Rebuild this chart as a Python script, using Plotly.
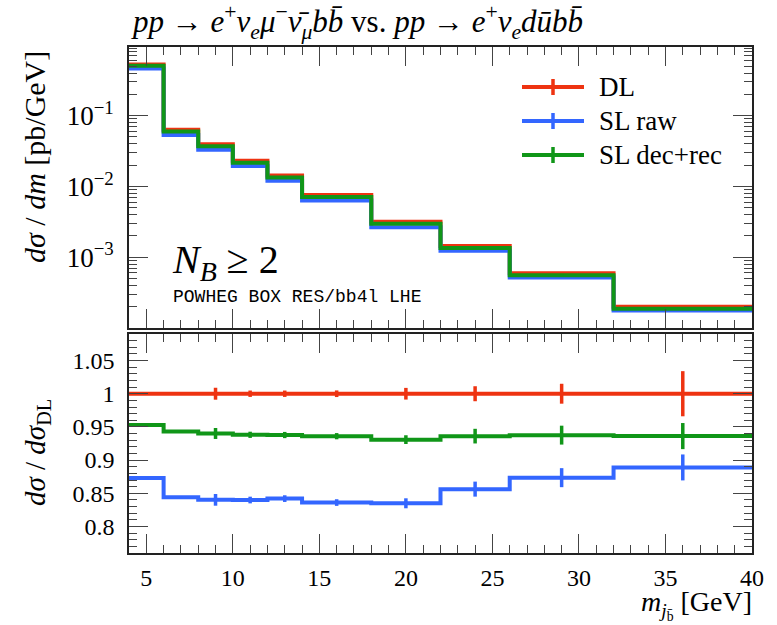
import plotly.graph_objects as go

# Binning in m_{j_bbar} [GeV]
edges = [4, 6, 8, 10, 12, 14, 18, 22, 26, 32, 40]

# Differential cross sections dsigma/dm [pb/GeV]
dl = [0.530, 0.0632, 0.0394, 0.0231, 0.0143, 0.00758, 0.00318, 0.00144, 0.000593, 0.000199]
sl_raw = [0.4627, 0.05334, 0.0331, 0.0194, 0.01204, 0.006337, 0.002655, 0.001233, 0.000518, 0.0001769]
sl_decrec = [0.5051, 0.0596, 0.03704, 0.02167, 0.01341, 0.007095, 0.00296, 0.001348, 0.000556, 0.0001863]

# Relative statistical uncertainties per bin
dl_relerr = [0.001, 0.001, 0.009, 0.0048, 0.0048, 0.005, 0.0088, 0.0113, 0.015, 0.034]
sl_raw_relerr = [0.001, 0.001, 0.0105, 0.006, 0.006, 0.006, 0.009, 0.0132, 0.0164, 0.022]
sl_decrec_relerr = [0.001, 0.001, 0.0088, 0.005, 0.005, 0.005, 0.0071, 0.0118, 0.0152, 0.021]

series_names = ["DL", "SL raw", "SL dec+rec"]
series_colors = ["#EE3311", "#3366FF", "#109618"]

x_ticks = [5, 10, 15, 20, 25, 30, 35, 40]
y_top_ticks = [1e-3, 1e-2, 1e-1]
y_top_ticktext = ["10<sup>\u22123</sup>", "10<sup>\u22122</sup>", "10<sup>\u22121</sup>"]
y_ratio_ticks = [0.8, 0.85, 0.9, 0.95, 1.0, 1.05]
y_ratio_ticktext = ["0.8", "0.85", "0.9", "0.95", "1", "1.05"]

SERIF = "Liberation Serif"
W, H = 777, 625
L, R, T, B = 129, 25, 47, 72
TOP_BOTTOM_PX = 328
RATIO_TOP_PX = 334
PLOT_H = H - T - B
PLOT_W = W - L - R


def px_x(px):
    return (px - L) / PLOT_W


def px_y(py):
    return (H - B - py) / PLOT_H


centers = [(a + b) / 2 for a, b in zip(edges[:-1], edges[1:])]
all_vals = [dl, sl_raw, sl_decrec]
all_err = [dl_relerr, sl_raw_relerr, sl_decrec_relerr]

fig = go.Figure()

for name, col, vals, rel in zip(series_names, series_colors, all_vals, all_err):
    ratio = [v / d for v, d in zip(vals, dl)]
    # main panel: step histogram + error bars at bin centres
    fig.add_trace(go.Scatter(
        x=edges, y=vals + [vals[-1]], mode="lines", line=dict(color=col, width=4, shape="hv"),
        name=name, showlegend=False, xaxis="x", yaxis="y", hoverinfo="skip"))
    fig.add_trace(go.Scatter(
        x=centers, y=vals, mode="markers", marker=dict(size=1, color=col, opacity=0),
        error_y=dict(type="data", array=[v * e for v, e in zip(vals, rel)], width=0,
                     thickness=3.5, color=col),
        showlegend=False, xaxis="x", yaxis="y", hoverinfo="skip"))
    # ratio panel
    fig.add_trace(go.Scatter(
        x=edges, y=ratio + [ratio[-1]], mode="lines", line=dict(color=col, width=4, shape="hv"),
        showlegend=False, xaxis="x2", yaxis="y2", hoverinfo="skip"))
    fig.add_trace(go.Scatter(
        x=centers, y=ratio, mode="markers", marker=dict(size=1, color=col, opacity=0),
        error_y=dict(type="data", array=[r * e for r, e in zip(ratio, rel)], width=0,
                     thickness=3.5, color=col),
        showlegend=False, xaxis="x2", yaxis="y2", hoverinfo="skip"))

tick_col = "#444444"
frame = dict(showline=True, linecolor="#222222", linewidth=1.6, mirror="allticks",
             ticks="inside", tickcolor=tick_col, tickwidth=1.4, showgrid=False, zeroline=False)
xminor = dict(ticks="inside", dtick=1, tick0=4, ticklen=8, tickcolor=tick_col, tickwidth=1.4, showgrid=False)

top_dom = [px_y(TOP_BOTTOM_PX), 1.0]
bot_dom = [0.0, px_y(RATIO_TOP_PX)]

log_minor = [m * 10 ** e for e in range(-4, 1) for m in range(2, 10)]
ratio_minor = [round(0.76 + 0.01 * i, 2) for i in range(0, 34)]

fig.update_layout(
    width=W, height=H,
    margin=dict(l=L, r=R, t=T, b=B),
    paper_bgcolor="white", plot_bgcolor="white",
    showlegend=False,
    font=dict(family=SERIF, size=22, color="black"),
    xaxis=dict(domain=[0, 1], anchor="y", range=[4, 40], tickvals=x_ticks, ticklen=19,
               showticklabels=False, minor=xminor, **frame),
    yaxis=dict(domain=top_dom, anchor="x", type="log", range=[-4, -0.03],
               tickvals=y_top_ticks, ticktext=y_top_ticktext, ticklen=19,
               tickfont=dict(family=SERIF, size=27), ticklabelstandoff=8,
               minor=dict(ticks="inside", tickvals=log_minor, ticklen=8, tickcolor=tick_col,
                          tickwidth=1.4, showgrid=False),
               **frame),
    xaxis2=dict(domain=[0, 1], anchor="y2", range=[4, 40], matches="x", tickvals=x_ticks,
                ticktext=[str(v) for v in x_ticks], ticklen=19,
                tickfont=dict(family=SERIF, size=24), ticklabelstandoff=2,
                minor=xminor, **frame),
    yaxis2=dict(domain=bot_dom, anchor="x2", range=[0.76, 1.09],
                tickvals=y_ratio_ticks, ticktext=y_ratio_ticktext, ticklen=19,
                tickfont=dict(family=SERIF, size=24), ticklabelstandoff=8,
                minor=dict(ticks="inside", tickvals=ratio_minor, ticklen=8, tickcolor=tick_col,
                           tickwidth=1.4, showgrid=False),
                **frame),
)

ann = []
# title
ann.append(dict(
    text=("<i>pp</i> \u2192 <i>e</i><sup>+</sup><i>\u03bd<sub>e</sub>\u03bc</i><sup>\u2212</sup>"
          "<i>\u03bd\u0304<sub>\u03bc</sub>bb\u0304</i> vs. <i>pp</i> \u2192 "
          "<i>e</i><sup>+</sup><i>\u03bd<sub>e</sub>d\u016bbb\u0304</i>"),
    x=px_x(129), y=px_y(22), xanchor="left", yanchor="middle",
    font=dict(family=SERIF, size=31)))
# y-axis titles
ann.append(dict(text="<i>d\u03c3</i> / <i>dm</i> [pb/GeV]", textangle=-90,
                x=px_x(34), y=px_y(157), xanchor="center", yanchor="middle",
                font=dict(family=SERIF, size=30)))
ann.append(dict(text="<i>d\u03c3</i> / <i>d\u03c3</i><sub>DL</sub>", textangle=-90,
                x=px_x(37), y=px_y(452), xanchor="center", yanchor="middle",
                font=dict(family=SERIF, size=29)))
# x-axis title
ann.append(dict(text="<i>m</i><sub><i>j</i><sub>b\u0304</sub></sub> [GeV]",
                x=px_x(754), y=px_y(605), xanchor="right", yanchor="middle",
                font=dict(family=SERIF, size=28)))
# in-plot labels
ann.append(dict(text="<i>N<sub>B</sub></i> \u2265 2", x=px_x(170), y=px_y(262),
                xanchor="left", yanchor="middle", font=dict(family=SERIF, size=40)))
ann.append(dict(text="POWHEG BOX RES/bb4l LHE", x=px_x(171), y=px_y(297),
                xanchor="left", yanchor="middle", font=dict(family="Liberation Mono", size=18)))

# legend: line with vertical error marker, then the label
shapes = []
leg_y = [87, 121, 155]
for name, col, yy in zip(series_names, series_colors, leg_y):
    shapes.append(dict(type="line", xref="paper", yref="paper", x0=px_x(522), x1=px_x(584),
                       y0=px_y(yy), y1=px_y(yy), line=dict(color=col, width=4)))
    shapes.append(dict(type="line", xref="paper", yref="paper", x0=px_x(553), x1=px_x(553),
                       y0=px_y(yy - 8), y1=px_y(yy + 8), line=dict(color=col, width=3.5)))
    ann.append(dict(text=name, x=px_x(597), y=px_y(yy), xanchor="left", yanchor="middle",
                    font=dict(family=SERIF, size=27)))

for a in ann:
    a.setdefault("xref", "paper")
    a.setdefault("yref", "paper")
    a.setdefault("showarrow", False)

fig.update_layout(annotations=ann, shapes=shapes)

fig.write_html("out.html")
